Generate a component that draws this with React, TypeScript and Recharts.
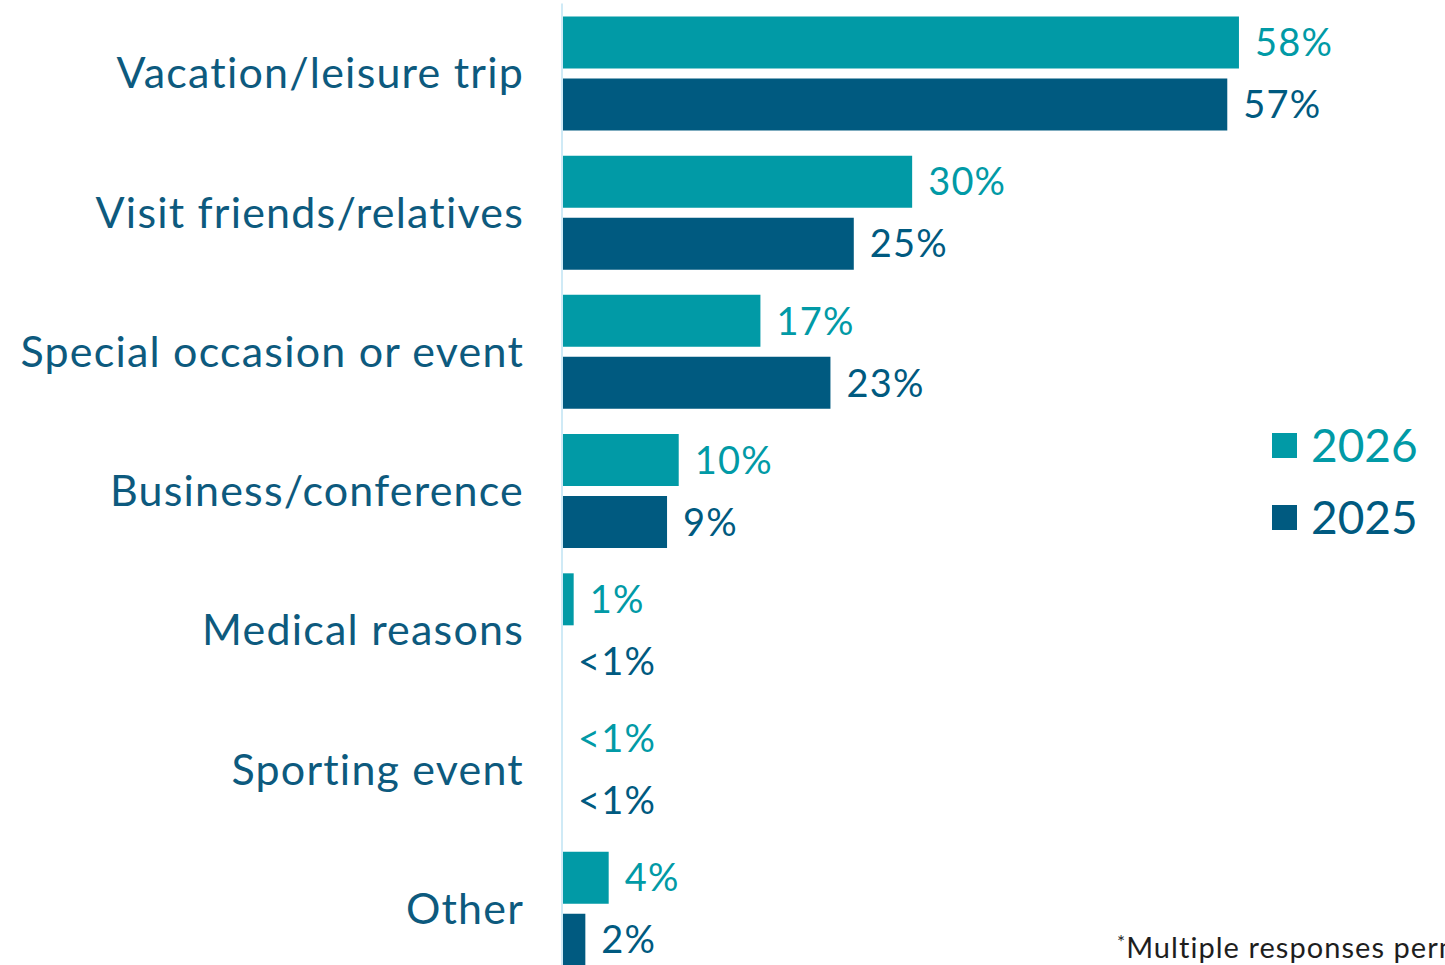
import React from 'react';
import { BarChart, Bar, XAxis, YAxis, LabelList, Legend } from 'recharts';

const categories = [
  'Vacation/leisure trip',
  'Visit friends/relatives',
  'Special occasion or event',
  'Business/conference',
  'Medical reasons',
  'Sporting event',
  'Other',
];
const values2026 = [58, 30, 17, 10, 1, 0, 4];
const values2025 = [57, 25, 23, 9, 0, 0, 2];
const labels2026 = ['58%', '30%', '17%', '10%', '1%', '<1%', '4%'];
const labels2025 = ['57%', '25%', '23%', '9%', '<1%', '<1%', '2%'];
const seriesNames = ['2026', '2025'];
const footnoteText = 'Multiple responses permitted';

const TEAL = '#019AA6';
const DARK = '#005A80';
const TEXT = '#0D5A7E';
const FONT = 'Lato, "Open Sans", sans-serif';

const data = categories.map((c, i) => ({
  category: c,
  v2026: values2026[i],
  v2025: values2025[i],
  l2026: labels2026[i],
  l2025: labels2025[i],
}));

const CategoryTick = (props: any) => {
  const { x, y, payload } = props;
  return (
    <text
      x={x - 30}
      y={y}
      dy="0.36em"
      textAnchor="end"
      fill={TEXT}
      fontSize={43}
      fontWeight={400}
      letterSpacing={1.2}
      fontFamily={FONT}
    >
      {payload.value}
    </text>
  );
};

const makeLabel = (color: string) => (props: any) => {
  const { x, y, width, height, value } = props;
  return (
    <text
      x={Number(x) + Number(width) + 16}
      y={Number(y) + Number(height) / 2}
      dy="0.36em"
      textAnchor="start"
      fill={color}
      fontSize={38}
      fontWeight={400}
      letterSpacing={1.2}
      fontFamily={FONT}
    >
      {value}
    </text>
  );
};

const LegendContent = (props: any) => {
  const payload = [...(props.payload || [])].sort(
    (a: any, b: any) => seriesNames.indexOf(a.value) - seriesNames.indexOf(b.value)
  );
  return (
    <div style={{ fontFamily: FONT }}>
      {payload.map((p: any) => (
        <div key={p.value} style={{ display: 'flex', alignItems: 'center', height: 72 }}>
          <div style={{ width: 25, height: 25, background: p.color, marginRight: 14 }} />
          <span style={{ fontSize: 46, color: p.color, lineHeight: '72px' }}>{p.value}</span>
        </div>
      ))}
    </div>
  );
};

export default function App() {
  return (
    <div
      style={{
        position: 'absolute',
        left: 0,
        top: 0,
        width: 1445,
        height: 965,
        overflow: 'hidden',
        background: '#fff',
      }}
    >
      <BarChart
        width={1445}
        height={978}
        data={data}
        layout="vertical"
        margin={{ top: 3.4, right: 182.7, bottom: 0, left: 0 }}
        barSize={52}
        barGap={10}
      >
        <XAxis type="number" domain={[0, 60]} hide />
        <YAxis
          type="category"
          dataKey="category"
          width={562}
          axisLine={{ stroke: '#CFEAF6', strokeWidth: 2 }}
          tickLine={false}
          tick={<CategoryTick />}
          interval={0}
        />
        <Legend
          layout="vertical"
          align="center"
          verticalAlign="middle"
          wrapperStyle={{ left: 1272, top: 409, width: 'auto' }}
          content={<LegendContent />}
        />
        <Bar dataKey="v2026" name={seriesNames[0]} fill={TEAL} minPointSize={0.01} isAnimationActive={false}>
          <LabelList dataKey="l2026" content={makeLabel(TEAL)} />
        </Bar>
        <Bar dataKey="v2025" name={seriesNames[1]} fill={DARK} minPointSize={0.01} isAnimationActive={false}>
          <LabelList dataKey="l2025" content={makeLabel(DARK)} />
        </Bar>
      </BarChart>
      <div
        style={{
          position: 'absolute',
          left: 1117,
          top: 932,
          fontFamily: FONT,
          fontSize: 29,
          fontWeight: 400,
          letterSpacing: 1.05,
          lineHeight: '29px',
          color: '#1E1E1E',
          whiteSpace: 'nowrap',
        }}
      >
        <span style={{ fontSize: 19, verticalAlign: 'top', lineHeight: '19px' }}>*</span>
        {footnoteText}
      </div>
    </div>
  );
}
